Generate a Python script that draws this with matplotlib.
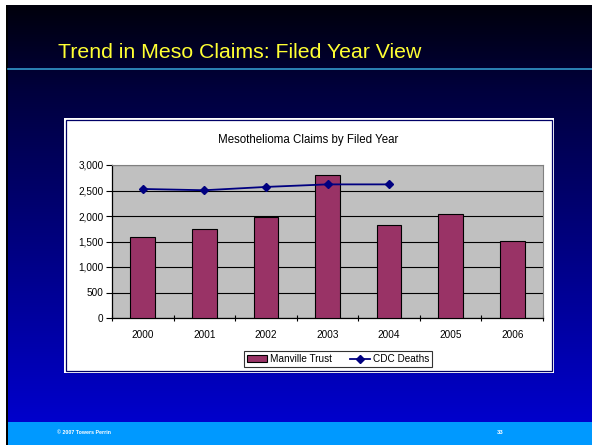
import numpy as np
import matplotlib
matplotlib.use("Agg")
import matplotlib.pyplot as plt
from matplotlib.patches import Rectangle
from matplotlib.ticker import FuncFormatter
from matplotlib.colors import LinearSegmentedColormap

years = ["2000", "2001", "2002", "2003", "2004", "2005", "2006"]
manville = [1585, 1745, 1990, 2800, 1820, 2035, 1505]
cdc_years = ["2000", "2001", "2002", "2003", "2004"]
cdc_deaths = [2530, 2505, 2570, 2620, 2620]

W, H = 592, 445
plt.rcParams["font.family"] = ["Liberation Sans", "DejaVu Sans"]

fig = plt.figure(figsize=(W / 100, H / 100), dpi=100)

def fx(px):
    return px / W

def fy(py):
    return 1 - py / H

# slide background: gradient from near black to blue
bg = fig.add_axes([0, 0, 1, 1], zorder=-10)
bg.axis("off")
grad_cmap = LinearSegmentedColormap.from_list(
    "slide", [(0, "#00000c"), (0.2, "#00003c"), (0.35, "#000058"), (1, "#0000cc")])
grad = np.linspace(0, 1, 256).reshape(-1, 1)
bg.imshow(grad, aspect="auto", cmap=grad_cmap,
          extent=[fx(7), 1, fy(422), fy(5)], transform=fig.transFigure)
bg.set_xlim(0, 1)
bg.set_ylim(0, 1)
# footer band
fig.patches.append(Rectangle((fx(7), 0), 1, fy(422), transform=fig.transFigure,
                             facecolor="#0099ff", edgecolor="none", zorder=-5))
# black left edge line
fig.patches.append(Rectangle((fx(6), 0), fx(1.6), fy(5), transform=fig.transFigure,
                             facecolor="#000000", edgecolor="none", zorder=-4))
# title rule
fig.add_artist(plt.Line2D([fx(8), 1], [fy(69), fy(69)], transform=fig.transFigure,
                          color="#3399cc", lw=1.2))

fig.text(fx(58), fy(52), "Trend in Meso Claims: Filed Year View", color="#ffff33",
         fontsize=15.3, ha="left", va="center")
fig.text(fx(57), fy(433), "\u00a9 2007 Towers Perrin", color="white",
         fontsize=3.8, fontweight="bold", ha="left", va="center")
fig.text(fx(500), fy(433), "33", color="white",
         fontsize=4.2, fontweight="bold", ha="center", va="center")

# white chart box with thin inner line
fig.patches.append(Rectangle((fx(64), fy(373)), fx(554 - 64), (373 - 118) / H,
                             transform=fig.transFigure, facecolor="white",
                             edgecolor="none", zorder=-3))
fig.patches.append(Rectangle((fx(65.8), fy(371.2)), fx(552.2 - 65.8), (371.2 - 119.8) / H,
                             transform=fig.transFigure, facecolor="white",
                             edgecolor="#000066", lw=0.9, zorder=-2))

fig.text(fx(308), fy(140), "Mesothelioma Claims by Filed Year", fontsize=8.3,
         ha="center", va="center", color="black")

ax = fig.add_axes([fx(112), fy(318), fx(543 - 112), (318 - 165) / H])
ax.set_facecolor("#c0c0c0")
x = np.arange(len(years))
bars = ax.bar(x, manville, width=0.4, color="#993366", edgecolor="black",
              lw=0.8, label="Manville Trust", zorder=3)
cx = [years.index(y) for y in cdc_years]
line, = ax.plot(cx, cdc_deaths, color="#000080", marker="D", markersize=4,
                lw=1.3, label="CDC Deaths", zorder=4)

ax.set_xlim(-0.5, len(years) - 0.5)
ax.set_ylim(0, 3000)
ax.set_yticks(range(0, 3001, 500))
ax.yaxis.set_major_formatter(FuncFormatter(lambda v, p: f"{int(v):,}"))
ax.grid(axis="y", color="black", lw=0.8, zorder=1)
ax.set_axisbelow(True)
ax.set_xticks(x)
ax.set_xticklabels(years)
ax.set_xticks(np.arange(-0.5, len(years)), minor=True)
ax.tick_params(axis="x", which="major", length=0, pad=9, labelsize=7.2)
ax.tick_params(axis="x", which="minor", length=5, direction="inout", width=0.8)
ax.tick_params(axis="y", which="major", length=4, direction="out", width=0.8,
               labelsize=7.2, pad=2)
for s in ["top", "right"]:
    ax.spines[s].set_color("#808080")
    ax.spines[s].set_linewidth(0.8)
for s in ["left", "bottom"]:
    ax.spines[s].set_color("black")
    ax.spines[s].set_linewidth(0.9)

leg = fig.legend(handles=[bars, line], loc="center", bbox_to_anchor=(fx(338), fy(359)),
                 ncol=2, fontsize=7.2, frameon=True, fancybox=False,
                 handlelength=2.0, handletextpad=0.3, columnspacing=1.8,
                 borderpad=0.3, borderaxespad=0)
leg.get_frame().set_edgecolor("black")
leg.get_frame().set_linewidth(0.8)

fig.savefig("out.png", dpi=100, facecolor="white")
